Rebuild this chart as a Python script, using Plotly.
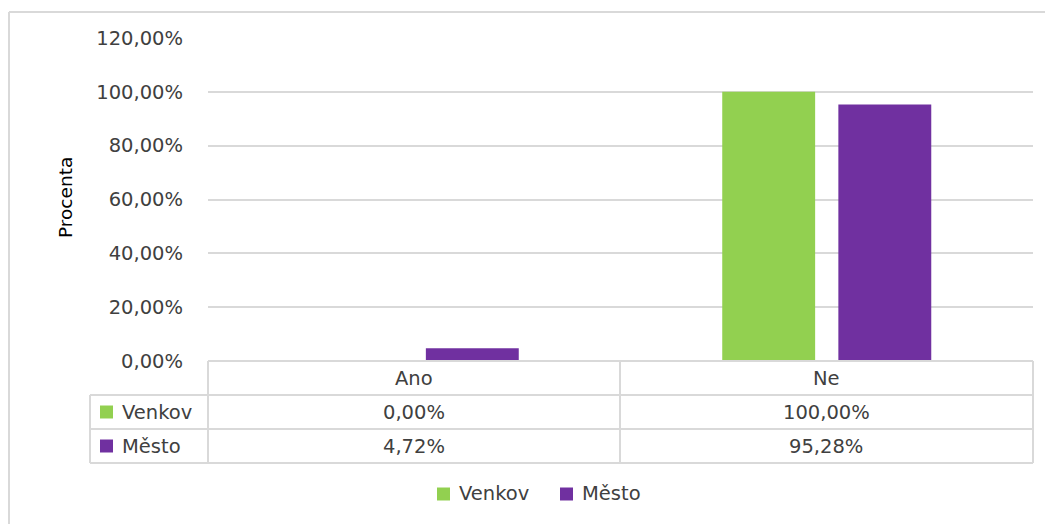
import plotly.graph_objects as go

categories = ["Ano", "Ne"]
series_names = ["Venkov", "Město"]
venkov = [0.00, 100.00]
mesto = [4.72, 95.28]
tick_values = [0, 20, 40, 60, 80, 100, 120]

colors = {"Venkov": "#92D050", "Město": "#7030A0"}
OFF = 8  # page body margin
W, H = 1053 - OFF, 524 - OFF
L, R, T, B = 208, 1033, 38, 361
FONT = "DejaVu Sans"
FS = 19.5
TXT = "#404040"
GRID = "#d9d9d9"


def px(x):
    return (x - L) / (R - L)


def py(y):
    return (B - y) / (B - T)


def fmt(v):
    return f"{v:.2f}".replace(".", ",") + "%"


fig = go.Figure()
for name, vals in zip(series_names, [venkov, mesto]):
    fig.add_trace(go.Bar(x=categories, y=vals, name=name, showlegend=False,
                         marker=dict(color=colors[name], line=dict(width=0))))

shapes = []
ann = []
line = dict(color=GRID, width=2)
# outer frame
shapes.append(dict(type="line", xref="paper", yref="paper", x0=px(9), x1=px(1060), y0=py(12), y1=py(12),
                   line=dict(color=GRID, width=2)))
shapes.append(dict(type="line", xref="paper", yref="paper", x0=px(9), x1=px(9), y0=py(12), y1=py(530),
                   line=dict(color=GRID, width=2)))
# data table grid
rows = [361, 395, 429, 463]
shapes.append(dict(type="line", xref="paper", yref="paper", x0=px(L), x1=px(R), y0=py(rows[0]), y1=py(rows[0]), line=line))
for r in rows[1:]:
    shapes.append(dict(type="line", xref="paper", yref="paper", x0=px(90), x1=px(R), y0=py(r), y1=py(r), line=line))
for xv, ytop in [(L, rows[0]), (620, rows[0]), (R, rows[0]), (90, rows[1])]:
    shapes.append(dict(type="line", xref="paper", yref="paper", x0=px(xv), x1=px(xv), y0=py(ytop), y1=py(rows[3]), line=line))

col_centers = [414, 826]
for c, cx in zip(categories, col_centers):
    ann.append(dict(x=px(cx), y=py((rows[0] + rows[1]) / 2), text=c))
for i, (name, vals) in enumerate(zip(series_names, [venkov, mesto])):
    yc = (rows[i + 1] + rows[i + 2]) / 2
    shapes.append(dict(type="rect", xref="paper", yref="paper", x0=px(100), x1=px(113),
                       y0=py(yc - 6.5), y1=py(yc + 6.5), fillcolor=colors[name], line=dict(width=0)))
    ann.append(dict(x=px(120), y=py(yc), text=name, xanchor="left"))
    for v, cx in zip(vals, col_centers):
        ann.append(dict(x=px(cx), y=py(yc), text=fmt(v)))

# bottom legend
leg_y = 494
for name, sx in zip(series_names, [437, 560]):
    shapes.append(dict(type="rect", xref="paper", yref="paper", x0=px(sx), x1=px(sx + 13),
                       y0=py(leg_y - 6.5), y1=py(leg_y + 6.5), fillcolor=colors[name], line=dict(width=0)))
    ann.append(dict(x=px(sx + 20), y=py(leg_y), text=name, xanchor="left"))

# y axis title
ann.append(dict(x=px(66), y=py(198), text="Procenta", textangle=-90,
                font=dict(family=FONT, size=18.5, color="#000000")))

annotations = []
for a in ann:
    d = dict(xref="paper", yref="paper", showarrow=False, xanchor="center", yanchor="middle",
             font=dict(family=FONT, size=FS, color=TXT))
    d.update(a)
    annotations.append(d)

fig.update_layout(
    width=W, height=H,
    margin=dict(l=L - OFF, r=1053 - R, t=T - OFF, b=524 - B),
    paper_bgcolor="white", plot_bgcolor="white",
    barmode="group", bargap=0.437, bargroupgap=0.2,
    font=dict(family=FONT, size=FS, color=TXT),
    showlegend=False,
    xaxis=dict(showticklabels=False, showgrid=False, zeroline=False, showline=False),
    yaxis=dict(range=[0, 120], tickvals=tick_values, ticktext=[fmt(v) for v in tick_values],
               showgrid=True, gridcolor=GRID, gridwidth=1.5, zeroline=False, showline=False,
               ticklabelstandoff=24, tickfont=dict(family=FONT, size=FS, color=TXT)),
    shapes=shapes, annotations=annotations,
)

fig.write_html("out.html")
